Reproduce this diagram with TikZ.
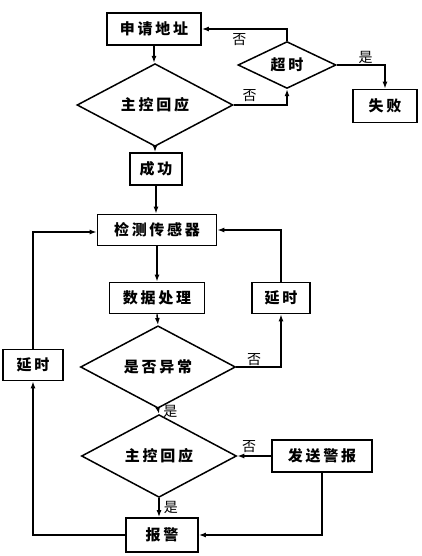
\documentclass[tikz,border=0pt]{standalone}
\usepackage{fontspec}
\newfontfamily\cjk{Noto Sans CJK SC}[LetterSpace=18]
\newfontfamily\cjklbl{Noto Sans CJK SC}
\usetikzlibrary{shapes.geometric,arrows.meta}
\begin{document}
\begin{tikzpicture}[x=1pt,y=-1pt,
  every node/.style={font=\cjk\bfseries\fontsize{15}{15}\selectfont},
  box/.style={draw,line width=1.7pt,inner sep=0pt,minimum height=32pt},
  dia/.style={draw,line width=1.5pt,diamond,inner sep=0pt},
  lbl/.style={font=\cjklbl\fontsize{14}{14}\selectfont,inner sep=1pt},
  arr/.style={line width=1.5pt,-{Latex[length=7pt,width=5pt]}}]
\useasboundingbox (0,0) rectangle (422,556);
\node[box,minimum width=94pt] (req) at (154,29) {申请地址};
\node[dia,minimum width=98pt,minimum height=39pt] (to) at (287,65) {超时};
\node[box,minimum width=64pt,minimum height=33pt] (fail) at (385,106) {失败};
\node[dia,minimum width=156pt,minimum height=44pt] (m1) at (155,105) {主控回应};
\node[box,minimum width=52pt] (ok) at (156,169) {成功};
\node[box,minimum width=119pt,minimum height=31pt] (det) at (157,230) {检测传感器};
\node[box,minimum width=95pt,minimum height=31pt] (dp) at (157,298) {数据处理};
\node[box,minimum width=58pt,minimum height=31pt] (d1) at (281,298) {延时};
\node[dia,minimum width=155pt,minimum height=46pt] (ab) at (158,367) {是否异常};
\node[box,minimum width=60pt,minimum height=31pt] (d2) at (33,365) {延时};
\node[dia,minimum width=155pt,minimum height=46pt] (m2) at (159,456) {主控回应};
\node[box,minimum width=100pt] (send) at (322,456) {发送警报};
\node[box,minimum width=72pt,minimum height=34pt] (alarm) at (162,535) {报警};
% connectors
\draw[arr] (req.south) -- (m1.north -| req.south);
\draw[arr] (m1.east) -| (to.south) node[lbl,pos=0.15,above,yshift=2pt] {否};
\draw[arr] (to.north) |- (req.east) node[lbl,pos=0.78,below,yshift=-3pt] {否};
\draw[arr] (to.east) -| (fail.north) node[lbl,pos=0.3,above] {是};
\draw[arr] (m1.south) -- (ok.north -| m1.south);
\draw[arr] (ok.south) -- (det.north -| ok.south);
\draw[arr] (det.south) -- (dp.north);
\draw[arr] (dp.south) -- (ab.north);
\draw[arr] (ab.east) -| (d1.south) node[lbl,pos=0.2,above] {否};
\coordinate (c1) at (det.east);
\draw[arr] (d1.north) |- (c1);
\draw[arr] (ab.south) -- (m2.north) node[lbl,midway,right,xshift=3pt] {是};
\draw[arr] (send.west) -- (m2.east) node[lbl,pos=0.65,above,yshift=2pt] {否};
\draw[arr] (m2.south) -- (m2.south |- alarm.north) node[lbl,midway,right,xshift=3pt] {是};
\draw[arr] (send.south) |- (alarm.east);
\draw[arr] (alarm.west) -| (d2.south);
\draw[arr] (d2.north) |- ([yshift=-2pt]det.west);
\end{tikzpicture}
\end{document}
